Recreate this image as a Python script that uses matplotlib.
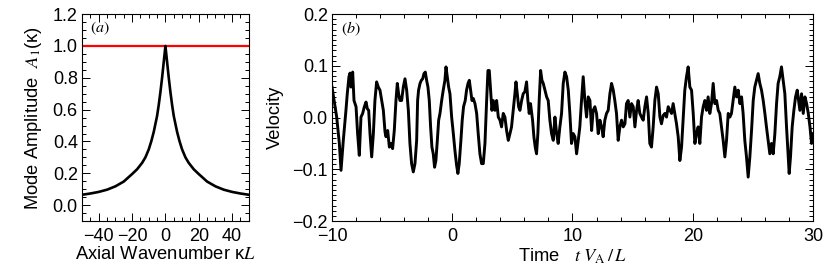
import matplotlib
matplotlib.use("Agg")
import matplotlib.pyplot as plt
from matplotlib.ticker import MultipleLocator

plt.rcParams['font.family'] = ['Liberation Sans', 'DejaVu Sans']
plt.rcParams['mathtext.fontset'] = 'stix'

# (a) mode amplitude vs axial wavenumber
kappa = [-50, -45, -40, -35, -30, -25, -20, -17, -14, -12, -10, -8.5, -7, -6, -5, -4, -3, -2, -1.2, -0.5, 0,
         0.5, 1.2, 2, 3, 4, 5, 6, 7, 8.5, 10, 12, 14, 17, 20, 25, 30, 35, 40, 45, 50]
amp = [0.065, 0.073, 0.083, 0.097, 0.118, 0.148, 0.195, 0.225, 0.265, 0.30, 0.35, 0.40, 0.46, 0.51, 0.56, 0.63,
       0.71, 0.80, 0.88, 0.95, 1.0,
       0.95, 0.88, 0.80, 0.71, 0.63, 0.56, 0.51, 0.46, 0.40, 0.35, 0.30, 0.265, 0.225, 0.195, 0.148, 0.118, 0.097,
       0.083, 0.073, 0.065]
ref_level = 1.0

# (b) velocity time series
time = [-10.0, -9.61, -9.39, -9.25, -9.06, -8.84, -8.73, -8.59, -8.50, -8.42, -8.28, -8.17, -8.00, -7.87,
        -7.73, -7.59, -7.45, -7.31, -7.17, -7.06, -6.95, -6.84, -6.70, -6.56, -6.43, -6.29, -6.15, -6.01,
        -5.87, -5.73, -5.59, -5.51, -5.37, -5.23, -5.10, -4.96, -4.82, -4.68, -4.57, -4.46, -4.35, -4.21,
        -4.07, -3.93, -3.79, -3.65, -3.52, -3.38, -3.24, -3.10, -2.96, -2.88, -2.80, -2.68, -2.57, -2.46,
        -2.35, -2.24, -2.13, -2.02, -1.91, -1.80, -1.69, -1.58, -1.47, -1.36, -1.24, -1.13, -1.02, -0.88,
        -0.75, -0.61, -0.52, -0.41, -0.30, -0.19, -0.05, 0.09, 0.22, 0.36, 0.47, 0.58, 0.72, 0.83, 0.94,
        1.08, 1.19, 1.31, 1.42, 1.53, 1.64, 1.75, 1.89, 2.03, 2.16, 2.30, 2.44, 2.58, 2.72, 2.86, 2.97,
        3.08, 3.19, 3.30, 3.41, 3.55, 3.69, 3.83, 3.97, 4.10, 4.24, 4.38, 4.52, 4.66, 4.80, 4.93, 5.07,
        5.21, 5.30, 5.41, 5.52, 5.63, 5.77, 5.90, 6.04, 6.18, 6.29, 6.40, 6.51, 6.68, 6.79, 6.90, 7.01,
        7.12, 7.23, 7.35, 7.46, 7.57, 7.71, 7.85, 7.98, 8.12, 8.26, 8.40, 8.54, 8.68, 8.81, 8.95,
        9.09, 9.23, 9.37, 9.51, 9.65, 9.78, 9.92, 10.06, 10.20, 10.34, 10.48, 10.61, 10.75, 10.89, 11.03,
        11.17, 11.31, 11.45, 11.59, 11.72, 11.86, 12.00, 12.14, 12.28, 12.42, 12.55, 12.69, 12.83, 12.97,
        13.11, 13.25, 13.39, 13.52, 13.66, 13.80, 13.94, 14.08, 14.22, 14.36, 14.49, 14.63, 14.77, 14.91,
        15.05, 15.19, 15.33, 15.46, 15.60, 15.74, 15.88, 16.02, 16.16, 16.30, 16.43, 16.57, 16.71, 16.85,
        16.99, 17.13, 17.27, 17.40, 17.54, 17.68, 17.82, 17.96, 18.10, 18.24, 18.37, 18.51, 18.65, 18.79,
        18.93, 19.07, 19.21, 19.34, 19.48, 19.62, 19.76, 19.90, 20.04, 20.18, 20.31, 20.45, 20.59, 20.73,
        20.87, 21.01, 21.15, 21.28, 21.42, 21.56, 21.70, 21.84, 21.98, 22.12, 22.25, 22.39, 22.53, 22.67,
        22.81, 22.95, 23.09, 23.22, 23.36, 23.50, 23.64, 23.78, 23.92, 24.06, 24.19, 24.33, 24.47, 24.61,
        24.75, 24.89, 25.03, 25.16, 25.30, 25.44, 25.58, 25.72, 25.86, 26.00, 26.13, 26.27, 26.41, 26.55,
        26.69, 26.83, 26.97, 27.10, 27.24, 27.38, 27.52, 27.66, 27.80, 27.94, 28.02, 28.13, 28.27, 28.41,
        28.55, 28.69, 28.80, 28.91, 29.05, 29.19, 29.33, 29.47, 29.61, 29.75, 29.88, 29.97]
velocity = [0.059, 0.001, -0.050, -0.102, -0.044, 0.014, 0.046, 0.079, 0.086, 0.059, 0.088, 0.033, 0.021, -0.031,
            -0.073, 0.001, 0.008, 0.021, 0.030, 0.017, 0.014, -0.031, -0.076, -0.031, 0.033, 0.069, 0.059, 0.053,
            0.033, 0.014, -0.028, -0.037, -0.025, -0.057, -0.050, -0.060, -0.025, 0.033, 0.066, 0.046, 0.033, 0.033,
            0.059, 0.075, 0.053, 0.014, -0.050, -0.089, -0.105, -0.089, -0.044, 0.033, 0.053, 0.066, 0.072, 0.075,
            0.085, 0.088, 0.072, 0.059, 0.033, -0.018, -0.057, -0.070, -0.096, -0.083, -0.044, -0.005, 0.008, 0.033,
            0.053, 0.072, 0.098, 0.079, 0.059, 0.046, 0.001, -0.031, -0.063, -0.092, -0.108, -0.089, -0.044, -0.005, 0.021,
            0.033, 0.053, 0.066, 0.072, 0.053, 0.033, 0.037, 0.027, 0.008, -0.031, -0.070, -0.089, -0.089, -0.050, 0.033, 0.091,
            0.091, 0.053, 0.014, 0.033, 0.014, 0.033, 0.001, -0.005, -0.018, 0.008, 0.001, -0.025, -0.044, -0.031, -0.018, 0.014,
            0.046, 0.069, 0.046, 0.021, 0.014, 0.033, 0.046, 0.050, 0.069, 0.033, 0.008, 0.027, -0.005, -0.037, -0.057, -0.070,
            -0.031, 0.033, 0.091, 0.072, 0.066, 0.053, 0.040, 0.033, -0.005, -0.031, -0.044, 0.001, -0.031, -0.050, -0.018,
            0.008, 0.066, 0.088, 0.079, 0.053, 0.008, -0.050, -0.031, -0.037, -0.070, -0.044, -0.018, 0.033, 0.079, 0.033,
            0.001, 0.040, 0.033, -0.025, 0.014, 0.021, 0.008, -0.031, -0.005, -0.018, -0.037, -0.005, 0.008, 0.014,
            0.046, 0.066, 0.053, 0.033, 0.008, -0.044, -0.018, -0.005, -0.018, -0.012, 0.027, 0.033, 0.001, 0.027,
            0.021, -0.018, 0.014, 0.033, 0.008, 0.001, -0.005, 0.021, 0.040, 0.008, -0.050, -0.057, -0.018, 0.033,
            0.059, 0.046, 0.001, -0.012, 0.004, 0.008, 0.001, 0.021, 0.014, 0.008, 0.027, 0.008, -0.012, -0.037,
            -0.083, -0.057, 0.001, 0.053, 0.079, 0.098, 0.059, 0.053, 0.008, -0.050, -0.031, -0.018, -0.050, 0.001,
            0.021, 0.033, 0.014, 0.040, 0.008, 0.027, 0.066, 0.027, 0.033, 0.014, 0.008, -0.018, -0.044, -0.076,
            -0.044, 0.008, 0.001, 0.008, 0.033, 0.059, 0.040, 0.053, 0.027, 0.040, 0.008, -0.044, -0.076, -0.115,
            -0.076, -0.025, 0.033, 0.059, 0.072, 0.085, 0.066, 0.053, 0.033, 0.008, -0.018, -0.044, -0.070, -0.050,
            -0.070, -0.031, 0.027, 0.066, 0.079, 0.098, 0.072, 0.046, -0.018, -0.076, -0.108, -0.076, -0.018, 0.014,
            0.040, 0.053, 0.033, 0.014, 0.046, 0.008, 0.040, 0.027, 0.008, -0.018, -0.050, -0.031]

fs_tick = 13
fs_label = 13.2

fig = plt.figure(figsize=(8.3, 2.77), dpi=100)
ax1 = fig.add_axes([0.0988, 0.202, 0.201, 0.747])
ax2 = fig.add_axes([0.400, 0.202, 0.5795, 0.747])

# panel (a)
ax1.axhline(ref_level, color='red', lw=1.6)
ax1.plot(kappa, amp, color='black', lw=1.9)
ax1.set_xlim(-50, 50)
ax1.set_ylim(-0.1, 1.2)
ax1.xaxis.set_minor_locator(MultipleLocator(5))
ax1.yaxis.set_minor_locator(MultipleLocator(0.05))
ax1.set_yticks([0.0, 0.2, 0.4, 0.6, 0.8, 1.0, 1.2])
ax1.set_yticklabels(['0.0', '0.2', '0.4', '0.6', '0.8', '1.0', '1.2'])
ax1.set_xticks([-40, -20, 0, 20, 40])
ax1.set_xticklabels(['\u221240', '\u221220', '0', '20', '40'])
ax1.set_xlabel('Axial Wavenumber \u03ba$L$', fontsize=fs_label, labelpad=1)
ax1.set_ylabel('Mode Amplitude  $A_1$(\u03ba)', fontsize=fs_label, labelpad=6)
ax1.text(0.05, 0.93, '$(a)$', transform=ax1.transAxes, fontsize=11.5, va='center')

# panel (b)
ax2.plot(time, velocity, color='black', lw=2.1)
ax2.set_xlim(-10, 30)
ax2.set_ylim(-0.2, 0.2)
ax2.xaxis.set_minor_locator(MultipleLocator(2))
ax2.yaxis.set_minor_locator(MultipleLocator(0.01))
ax2.set_xticks([-10, 0, 10, 20, 30])
ax2.set_xticklabels(['\u221210', '0', '10', '20', '30'])
ax2.set_yticks([-0.2, -0.1, 0.0, 0.1, 0.2])
ax2.set_yticklabels(['\u22120.2', '\u22120.1', '0.0', '0.1', '0.2'])
ax2.set_xlabel('Time   $t\\ V_{\\mathrm{A}}\\,/\\,L$', fontsize=fs_label, labelpad=1)
ax2.set_ylabel('Velocity', fontsize=fs_label, labelpad=6)
ax2.text(0.018, 0.93, '$(b)$', transform=ax2.transAxes, fontsize=11.5, va='center')

for ax in (ax1, ax2):
    ax.tick_params(which='both', direction='in', top=True, right=True, labelsize=fs_tick, width=0.7)
    ax.tick_params(which='major', length=6)
    ax.tick_params(which='minor', length=3)
    ax.tick_params(axis='y', which='major', pad=3)
    ax.tick_params(axis='x', which='major', pad=5)
    for sp in ax.spines.values():
        sp.set_linewidth(0.8)

fig.savefig('out.png', dpi=100)
